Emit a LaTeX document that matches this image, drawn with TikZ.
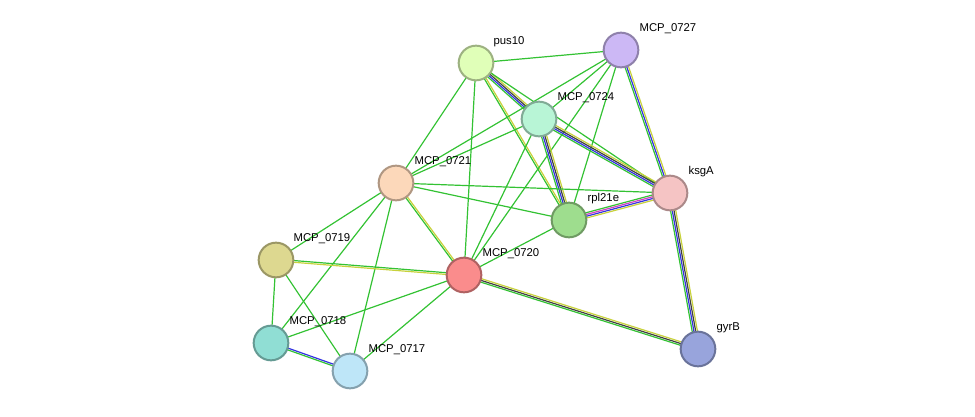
\documentclass[tikz,border=0pt]{standalone}
\usepackage{fontspec}
\setmainfont{Liberation Sans}
\usetikzlibrary{calc}
\definecolor{lgreen}{HTML}{33C233}
\definecolor{lblue}{HTML}{3333E0}
\definecolor{lyellow}{HTML}{C8D23C}
\definecolor{lblack}{HTML}{404040}
\definecolor{lpink}{HTML}{D040C0}
\definecolor{cpus}{HTML}{E0FFB8}
\definecolor{cseven}{HTML}{CCB8F5}
\definecolor{cfour}{HTML}{B8F5D6}
\definecolor{cone}{HTML}{FCD8BA}
\definecolor{cksg}{HTML}{F5C4C4}
\definecolor{crpl}{HTML}{9EDD8E}
\definecolor{cnine}{HTML}{DDD890}
\definecolor{czero}{HTML}{FA8C8C}
\definecolor{ceight}{HTML}{90DED4}
\definecolor{cseventeen}{HTML}{BEE6F8}
\definecolor{cgyr}{HTML}{98A4DC}
\tikzset{
  prot/.style={circle, draw=#1!70!black, fill=#1, line width=1.5pt, minimum size=26pt, inner sep=0pt},
  lab/.style={font=\fontsize{8.5}{9}\selectfont, inner sep=1pt},
}
\newcommand\lnk[4]{%
  \foreach \c [count=\i] in {#4}{%
    \pgfmathsetmacro\off{(\i-(#3+1)/2)*1.3}
    \draw[\c, line width=0.9pt] ($(#1)!\off pt!90:(#2)$) -- ($(#2)!\off pt!-90:(#1)$);
  }}
\begin{document}
\begin{tikzpicture}[x=0.75pt,y=-0.75pt]
    \useasboundingbox (0,0) rectangle (975,417);
    % node positions
    \coordinate (pus10) at (476,63);
    \coordinate (m727) at (621,50);
    \coordinate (m724) at (539,119);
    \coordinate (m721) at (396,183);
    \coordinate (ksgA) at (670,193);
    \coordinate (rpl) at (569,220);
    \coordinate (m719) at (276,260);
    \coordinate (m720) at (464,275);
    \coordinate (m718) at (271,343);
    \coordinate (m717) at (350,371);
    \coordinate (gyrB) at (698,349);

    % edges
    \lnk{pus10}{m727}{1}{lgreen}
    \lnk{pus10}{m724}{4}{lgreen,lblue,lblack,lyellow}
    \lnk{pus10}{rpl}{2}{lgreen,lyellow}
    \lnk{pus10}{ksgA}{1}{lgreen}
    \lnk{pus10}{m721}{1}{lgreen}
    \lnk{pus10}{m720}{1}{lgreen}
    \lnk{m727}{m724}{1}{lgreen}
    \lnk{m727}{ksgA}{3}{lgreen,lblue,lyellow}
    \lnk{m727}{m721}{1}{lgreen}
    \lnk{m727}{rpl}{1}{lgreen}
    \lnk{m727}{m720}{1}{lgreen}
    \lnk{m724}{m721}{1}{lgreen}
    \lnk{m724}{ksgA}{4}{lgreen,lblue,lblack,lyellow}
    \lnk{m724}{rpl}{4}{lgreen,lblue,lblack,lyellow}
    \lnk{m724}{m720}{1}{lgreen}
    \lnk{m721}{ksgA}{1}{lgreen}
    \lnk{m721}{rpl}{1}{lgreen}
    \lnk{m721}{m720}{2}{lgreen,lyellow}
    \lnk{m721}{m719}{1}{lgreen}
    \lnk{m721}{m718}{1}{lgreen}
    \lnk{m721}{m717}{1}{lgreen}
    \lnk{ksgA}{rpl}{4}{lgreen,lpink,lblue,lyellow}
    \lnk{ksgA}{gyrB}{4}{lgreen,lblue,lblack,lyellow}
    \lnk{rpl}{m720}{1}{lgreen}
    \lnk{m720}{gyrB}{3}{lgreen,lblack,lyellow}
    \lnk{m720}{m719}{2}{lgreen,lyellow}
    \lnk{m720}{m718}{1}{lgreen}
    \lnk{m720}{m717}{1}{lgreen}
    \lnk{m719}{m718}{1}{lgreen}
    \lnk{m719}{m717}{1}{lgreen}
    \lnk{m718}{m717}{2}{lgreen,lblue}

    % proteins
    \node[prot=cpus] (npus10) at (pus10) {};
    \node[prot=cseven] (nm727) at (m727) {};
    \node[prot=cfour] (nm724) at (m724) {};
    \node[prot=cone] (nm721) at (m721) {};
    \node[prot=cksg] (nksgA) at (ksgA) {};
    \node[prot=crpl] (nrpl) at (rpl) {};
    \node[prot=cnine] (nm719) at (m719) {};
    \node[prot=czero] (nm720) at (m720) {};
    \node[prot=ceight] (nm718) at (m718) {};
    \node[prot=cseventeen] (nm717) at (m717) {};
    \node[prot=cgyr] (ngyrB) at (gyrB) {};

    % labels
    \node[lab, anchor=south west] at (492,48) {pus10};
    \node[lab, anchor=south west] at (638,35) {MCP\_0727};
    \node[lab, anchor=south west] at (556,104) {MCP\_0724};
    \node[lab, anchor=south west] at (413,168) {MCP\_0721};
    \node[lab, anchor=south west] at (687,178) {ksgA};
    \node[lab, anchor=south west] at (586,205) {rpl21e};
    \node[lab, anchor=south west] at (292,245) {MCP\_0719};
    \node[lab, anchor=south west] at (481,260) {MCP\_0720};
    \node[lab, anchor=south west] at (288,328) {MCP\_0718};
    \node[lab, anchor=south west] at (367,356) {MCP\_0717};
    \node[lab, anchor=south west] at (715,334) {gyrB};
\end{tikzpicture}
\end{document}
